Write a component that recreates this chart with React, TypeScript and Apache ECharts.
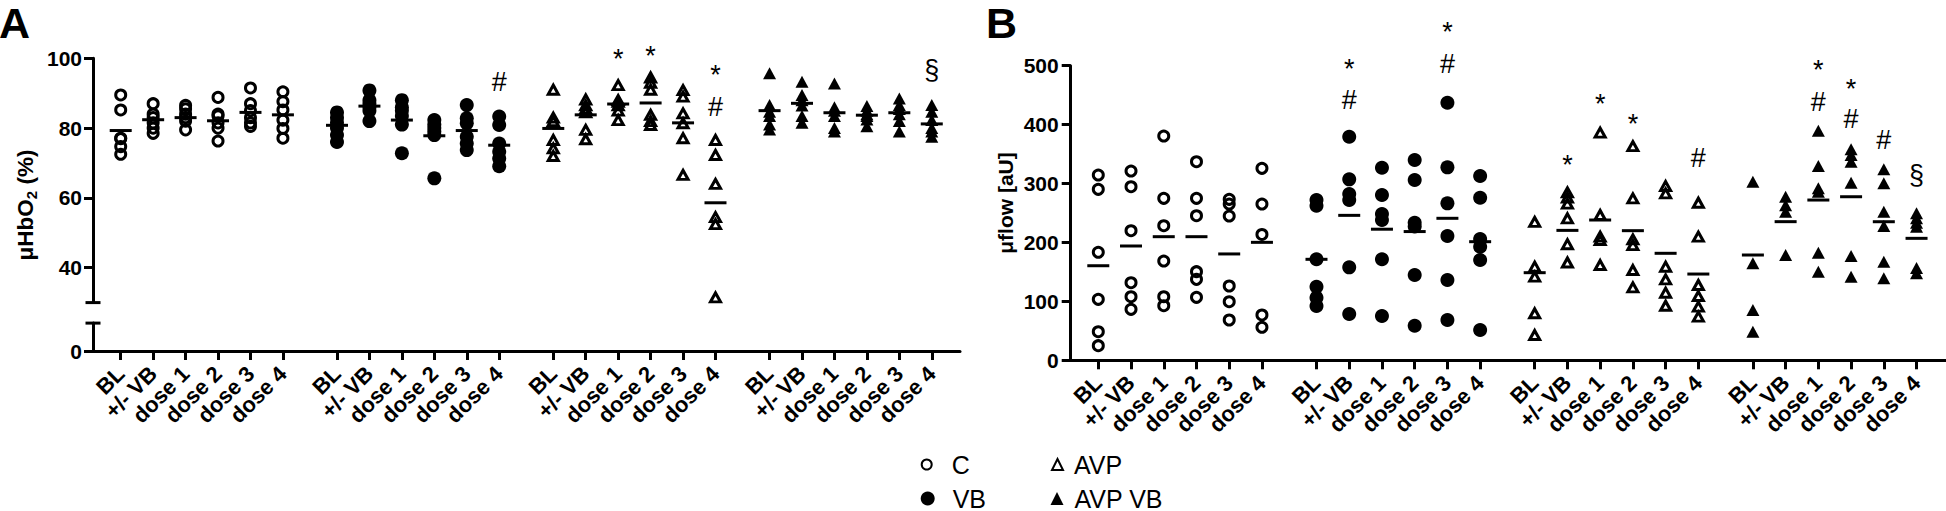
import { useEffect, useRef } from 'react';
import * as echarts from 'echarts';

// ---------- categories / groups ----------
const categories = ['BL', '+/- VB', 'dose 1', 'dose 2', 'dose 3', 'dose 4'];
const groupNames = ['C', 'VB', 'AVP', 'AVP VB'];

// ---------- Panel A: µHbO2 (%) ----------
const hbo2C = [
  [89.5, 85.2, 77.1, 77.0, 74.7, 72.5],
  [87, 84, 83, 81.5, 80, 78.5],
  [86.5, 85.5, 84, 83, 82, 79.5],
  [88.8, 84.0, 83.5, 81.5, 80.0, 76.3],
  [91.5, 87, 85, 83, 81.5, 80.5],
  [90.4, 87.6, 85.2, 82.3, 79.9, 77.1],
];
const hbo2VB = [
  [84.5, 83, 81.5, 80, 78, 76],
  [90.8, 88, 87, 86, 85, 82],
  [88, 86, 85, 83.5, 81, 72.8],
  [82.3, 81, 80, 79, 78, 65.6],
  [86.6, 82.8, 81.4, 77.5, 75.6, 73.7],
  [83.3, 80.9, 75.6, 73.2, 71.3, 69.1],
];
const hbo2AVP = [
  [91, 83, 82, 76.6, 74.2, 72],
  [88.2, 86.5, 85.5, 84.5, 79.5, 76.8],
  [92.3, 88, 87.5, 86.5, 85, 82.3],
  [94.5, 93, 91, 83.8, 82, 80.9],
  [90.9, 89, 84.2, 81.4, 77.1, 66.6],
  [76.6, 72.3, 64, 54.5, 52.5, 31.5],
];
const hbo2AVPVB = [
  [95.7, 86.6, 84.7, 83.5, 81, 79.6],
  [93.3, 89.5, 88, 86.5, 83.5, 81.5],
  [92.8, 86, 85, 83.5, 80, 79],
  [86.3, 85, 84, 83.5, 82.5, 80.5],
  [88.5, 86.6, 85.5, 84, 82, 79],
  [86.6, 84.7, 82.3, 80, 79, 77.5],
];
const hbo2MeanC = [79.3, 82.4, 83.0, 82.1, 84.5, 83.8];
const hbo2MeanVB = [80.8, 86.3, 82.3, 77.8, 79.3, 75.1];
const hbo2MeanAVP = [79.9, 83.8, 86.9, 87.2, 81.5, 58.6];
const hbo2MeanAVPVB = [85.0, 87.1, 84.4, 83.7, 84.4, 81.2];
const hbo2Marks = [
  { g: 1, c: 5, v: 93.3, t: '#' },
  { g: 2, c: 2, v: 101.9, t: '*' },
  { g: 2, c: 3, v: 102.6, t: '*' },
  { g: 2, c: 5, v: 97.1, t: '*' },
  { g: 2, c: 5, v: 86.1, t: '#' },
  { g: 3, c: 5, v: 96.6, t: '§' },
];
const hbo2UpperTicks = [40, 60, 80, 100];
const hbo2LowerTicks = [0];

// ---------- Panel B: µflow [aU] ----------
const flowC = [
  [314.4, 290.2, 183.3, 103.5, 48.5, 24.8],
  [321.2, 294.6, 219.9, 131.7, 107.9, 86.5],
  [380.6, 274.9, 228.4, 168.5, 107.9, 92.6],
  [337, 274.9, 245.4, 150.4, 137.4, 106.9],
  [273.2, 265.2, 244.9, 126.1, 99.4, 68.4],
  [325.8, 265.2, 213.6, 76.9, 56.0],
];
const flowVB = [
  [272.0, 262.4, 171.4, 124.9, 106.3, 92.1],
  [379.4, 307.1, 282.2, 272.0, 157.8, 78.6],
  [326.8, 280.5, 248.3, 238.1, 171.4, 75.2],
  [339.9, 306.0, 233.5, 227, 144.7, 58.7],
  [437.1, 327.5, 266.4, 210.9, 136.3, 68.4],
  [312.7, 275.9, 205.8, 192.8, 170.2, 51.4],
];
const flowAVP = [
  [235, 158.8, 141.9, 79.8, 42.9],
  [285, 276, 266, 241, 197, 166],
  [386.3, 246.6, 209.8, 204.1, 161.7],
  [363.6, 274.9, 205.3, 195.6, 153.2, 123.8],
  [295.8, 283.4, 158.8, 137.4, 114.7, 92.6],
  [267.4, 209.8, 127.8, 109.1, 91.0, 74.0],
];
const flowAVPVB = [
  [303, 164.6, 85.4, 48.5],
  [277.7, 263, 252, 178.7],
  [389.7, 329.7, 292, 286, 182.6, 150.4],
  [358.0, 348.4, 337.0, 301.4, 177.0, 141.9],
  [324.1, 300.3, 252.2, 227.9, 167.3, 139.1],
  [249.4, 241.0, 233.5, 226.7, 156.6, 147.6],
];
const flowMeanC = [160.5, 194.0, 209.8, 209.8, 180.5, 200.2];
const flowMeanVB = [171.4, 246.0, 222.5, 218.5, 241.0, 201.3];
const flowMeanAVP = [148.7, 220.5, 238.1, 220.0, 181.6, 146.4];
const flowMeanAVPVB = [178.7, 235.3, 272.0, 277.6, 235.2, 207.0];
const flowMarks = [
  { g: 1, c: 1, v: 506.8, t: '*' },
  { g: 1, c: 1, v: 441.7, t: '#' },
  { g: 1, c: 4, v: 569, t: '*' },
  { g: 1, c: 4, v: 502.8, t: '#' },
  { g: 2, c: 1, v: 342.8, t: '*' },
  { g: 2, c: 2, v: 447.4, t: '*' },
  { g: 2, c: 3, v: 413.4, t: '*' },
  { g: 2, c: 5, v: 342.8, t: '#' },
  { g: 3, c: 2, v: 504, t: '*' },
  { g: 3, c: 2, v: 438.8, t: '#' },
  { g: 3, c: 3, v: 472.8, t: '*' },
  { g: 3, c: 3, v: 409, t: '#' },
  { g: 3, c: 4, v: 373.8, t: '#' },
  { g: 3, c: 5, v: 314.4, t: '§' },
];
const flowTicks = [0, 100, 200, 300, 400, 500];

// ---------- layout helpers ----------
const FONT = '"Liberation Sans", Arial, Helvetica, sans-serif';
const GROUP_STEP = 20 / 3;
const xPos = (g: number, c: number) => g * GROUP_STEP + c;
const tickPositions: number[] = [];
const tickLabelMap: Record<string, string> = {};
groupNames.forEach((_, g) =>
  categories.forEach((cat, c) => {
    const p = xPos(g, c);
    tickPositions.push(p);
    tickLabelMap[p.toFixed(3)] = cat;
  })
);

const A_XMIN = -0.854;
const A_XMAX = 25.87;
const B_XMIN = -0.843;
const B_XMAX = 25.9;

const symbolStyles = [
  { symbol: 'circle', symbolSize: 10, itemStyle: { color: 'rgba(0,0,0,0)', borderColor: '#000', borderWidth: 3, opacity: 1 } },
  { symbol: 'circle', symbolSize: 14, itemStyle: { color: '#000', borderWidth: 0, opacity: 1 } },
  { symbol: 'triangle', symbolSize: [10, 9], itemStyle: { color: 'rgba(0,0,0,0)', borderColor: '#000', borderWidth: 3, opacity: 1 } },
  { symbol: 'triangle', symbolSize: [13, 12], itemStyle: { color: '#000', borderWidth: 0, opacity: 1 } },
];

function buildSeries(
  sets: number[][][],
  means: number[][],
  marks: { g: number; c: number; v: number; t: string }[],
  xAxisIndex: number,
  yAxisIndex: number
) {
  const out: any[] = [];
  sets.forEach((set, g) => {
    const data: number[][] = [];
    set.forEach((vals, c) => vals.forEach((v) => data.push([xPos(g, c), v])));
    out.push({
      type: 'scatter',
      name: groupNames[g],
      xAxisIndex,
      yAxisIndex,
      data,
      ...symbolStyles[g],
      silent: true,
      z: 3,
    });
  });
  const meanData: number[][] = [];
  means.forEach((m, g) => m.forEach((v, c) => meanData.push([xPos(g, c), v])));
  out.push({
    type: 'scatter',
    name: 'mean',
    xAxisIndex,
    yAxisIndex,
    data: meanData,
    symbol: 'rect',
    symbolSize: [22, 3],
    itemStyle: { color: '#000', opacity: 1 },
    silent: true,
    z: 4,
  });
  out.push({
    type: 'scatter',
    name: 'marks',
    xAxisIndex,
    yAxisIndex,
    clip: false,
    symbol: 'circle',
    symbolSize: 1,
    itemStyle: { color: 'rgba(0,0,0,0)', opacity: 1 },
    silent: true,
    z: 5,
    data: marks.map((m) => ({
      value: [xPos(m.g, m.c), m.v],
      name: m.t,
      label: { offset: m.t === '*' ? [0, 7] : [0, 0] },
    })),
    label: {
      show: true,
      position: 'inside',
      formatter: '{b}',
      fontSize: 27,
      fontFamily: FONT,
      color: '#000',
      opacity: 1,
    },
  });
  return out;
}

const axisLineStyle = { show: true, onZero: false, lineStyle: { color: '#000', width: 3 } };
const axisTickStyle = { show: true, length: 9, lineStyle: { color: '#000', width: 3 } };

function xAxisVisible(gridIndex: number, min: number, max: number) {
  return {
    type: 'value',
    gridIndex,
    min,
    max,
    axisLine: axisLineStyle,
    axisTick: { ...axisTickStyle, customValues: tickPositions },
    axisLabel: {
      customValues: tickPositions,
      rotate: 45,
      margin: 19,
      fontSize: 22,
      fontWeight: 'bold',
      fontFamily: FONT,
      color: '#000',
      formatter: (v: number) => tickLabelMap[v.toFixed(3)] ?? '',
    },
    splitLine: { show: false },
  };
}

function yAxisCfg(gridIndex: number, min: number, max: number, ticks: number[], margin: number) {
  return {
    type: 'value',
    gridIndex,
    min,
    max,
    axisLine: axisLineStyle,
    axisTick: { ...axisTickStyle, customValues: ticks },
    axisLabel: {
      customValues: ticks,
      margin,
      fontSize: 21,
      fontWeight: 'bold',
      fontFamily: FONT,
      color: '#000',
    },
    splitLine: { show: false },
  };
}

function legendCfg(name: string, left: number, top: number, size: number, padLeft: number) {
  return {
    data: [name],
    left,
    top,
    orient: 'horizontal',
    itemWidth: size,
    itemHeight: size,
    selectedMode: false,
    textStyle: { fontSize: 25, fontFamily: FONT, color: '#000', padding: [0, 0, 0, padLeft] },
  };
}

export default function App() {
  const ref = useRef<HTMLDivElement>(null);
  useEffect(() => {
    if (!ref.current) return;
    const chart = echarts.init(ref.current, undefined, { renderer: 'svg' });
    const option: any = {
      animation: false,
      backgroundColor: '#fff',
      grid: [
        { left: 93, top: 58.3, width: 867, height: 244.3 },
        { left: 93, top: 323.1, width: 867, height: 27.9 },
        { left: 1070.7, top: 65.7, width: 875.3, height: 294.6 },
      ],
      xAxis: [
        { type: 'value', gridIndex: 0, min: A_XMIN, max: A_XMAX, show: false },
        xAxisVisible(1, A_XMIN, A_XMAX),
        xAxisVisible(2, B_XMIN, B_XMAX),
      ],
      yAxis: [
        yAxisCfg(0, 30, 100, hbo2UpperTicks, 11),
        yAxisCfg(1, 0, 8, hbo2LowerTicks, 11),
        yAxisCfg(2, 0, 500, flowTicks, 12),
      ],
      legend: [
        legendCfg('C', 915.7, 447, 10, 15),
        legendCfg('VB', 915.7, 481, 14, 13),
        legendCfg('AVP', 1046, 447, 11, 6),
        legendCfg('AVP VB', 1045.5, 481, 13, 6),
      ],
      series: [
        ...buildSeries([hbo2C, hbo2VB, hbo2AVP, hbo2AVPVB], [hbo2MeanC, hbo2MeanVB, hbo2MeanAVP, hbo2MeanAVPVB], hbo2Marks, 0, 0),
        ...buildSeries([flowC, flowVB, flowAVP, flowAVPVB], [flowMeanC, flowMeanVB, flowMeanAVP, flowMeanAVPVB], flowMarks, 2, 2),
      ],
      graphic: [
        {
          id: 'letterA',
          type: 'text',
          x: -1,
          y: 23,
          style: { text: 'A', fontSize: 43, lineHeight: 40, fontWeight: 'bold', fontFamily: FONT, fill: '#000', verticalAlign: 'middle' },
        },
        {
          id: 'letterB',
          type: 'text',
          x: 986,
          y: 23,
          style: { text: 'B', fontSize: 43, lineHeight: 40, fontWeight: 'bold', fontFamily: FONT, fill: '#000', verticalAlign: 'middle' },
        },
        {
          id: 'titleA',
          type: 'text',
          x: 25,
          y: 205,
          rotation: Math.PI / 2,
          style: {
            text: '{a|μHbO}{b|2}{a| (%)}',
            align: 'center',
            verticalAlign: 'middle',
            fill: '#000',
            rich: {
              a: { fontSize: 22.5, fontWeight: 'bold', fontFamily: FONT, lineHeight: 27 },
              b: { fontSize: 15, fontWeight: 'bold', fontFamily: FONT, lineHeight: 27, verticalAlign: 'bottom' },
            },
          },
        },
        {
          id: 'titleB',
          type: 'text',
          x: 1005,
          y: 203,
          rotation: Math.PI / 2,
          style: {
            text: 'μflow [aU]',
            align: 'center',
            verticalAlign: 'middle',
            fill: '#000',
            fontSize: 21,
            fontWeight: 'bold',
            fontFamily: FONT,
          },
        },
      ],
    };
    chart.setOption(option);
    // axis break caps on panel A
    const ax = chart.convertToPixel({ xAxisIndex: 0 }, A_XMIN) as number;
    const yCapTop = chart.convertToPixel({ yAxisIndex: 0 }, 30) as number;
    const yCapBot = chart.convertToPixel({ yAxisIndex: 1 }, 8) as number;
    chart.setOption({
      graphic: [
        { id: 'capTop', type: 'line', shape: { x1: ax - 7.5, y1: yCapTop, x2: ax + 7.5, y2: yCapTop }, style: { stroke: '#000', lineWidth: 3 } },
        { id: 'capBot', type: 'line', shape: { x1: ax - 7.5, y1: yCapBot, x2: ax + 7.5, y2: yCapBot }, style: { stroke: '#000', lineWidth: 3 } },
      ],
    });
    return () => chart.dispose();
  }, []);
  return <div ref={ref} style={{ position: 'absolute', left: 0, top: 0, width: 1946, height: 511 }} />;
}
